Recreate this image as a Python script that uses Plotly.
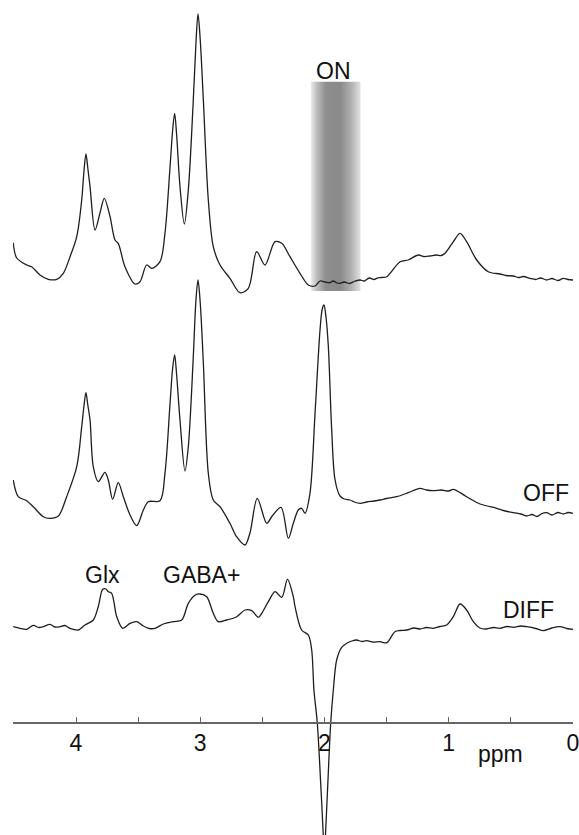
import plotly.graph_objects as go

# ---------------- data (ppm, intensity in arbitrary units) ----------------
on_ppm = [4.505, 4.477, 4.397, 4.357, 4.290, 4.223, 4.155, 4.102, 4.048, 3.994, 3.954, 3.935, 3.920,
          3.905, 3.887, 3.847, 3.807, 3.772, 3.726, 3.686, 3.660, 3.606, 3.525, 3.485, 3.431, 3.391,
          3.324, 3.284, 3.243, 3.222, 3.206, 3.190, 3.163, 3.128, 3.096, 3.056, 3.035, 3.018, 3.000,
          2.975, 2.935, 2.895, 2.841, 2.761, 2.680, 2.613, 2.546, 2.479, 2.398, 2.344, 2.278, 2.197,
          2.130, 2.076, 2.036, 1.995, 1.956, 1.930, 1.900, 1.875, 1.840, 1.800, 1.760, 1.714, 1.680,
          1.640, 1.600, 1.580, 1.540, 1.499, 1.392, 1.326, 1.245, 1.200, 1.151, 1.100, 1.060, 1.030,
          0.963, 0.909, 0.856, 0.775, 0.682, 0.588, 0.540, 0.480, 0.440, 0.400, 0.346, 0.300, 0.260,
          0.212, 0.170, 0.120, 0.078, 0.040, 0.000]
on_int = [37.3, 22, 15, 13.3, 5, 0.7, 0.7, 6.7, 23.3, 43.3, 80, 110, 126,
          112, 93.3, 50, 67, 81.7, 63.3, 40, 36.7, 13.3, -4, -1.7, 15, 11.7,
          18.3, 46.7, 113.3, 150, 166.7, 145, 93.3, 56, 90, 180, 236, 266, 240,
          180, 80, 33.3, 15, 1.7, -12.7, -8.3, 28.3, 15, 38.3, 36.7, 23.3, 6.7,
          -5, -6, -1, -2, -2.7, -1, -3, -3.3, -2, -3.5, -1.5, 0, -1,
          2, 0.5, 1.7, 2.5, 3.3, 18.3, 20, 25, 23.5, 24, 25, 24.5, 26.7,
          38.3, 46.7, 38.3, 20, 8.3, 6, 4.5, 4, 2.5, 3.5, 1.7, 0.5, 2,
          0, 1.5, -0.5, 1.7, 0.5, 0]

off_ppm = [4.505, 4.464, 4.397, 4.344, 4.263, 4.209, 4.142, 4.075, 3.994, 3.954, 3.935, 3.920, 3.905,
           3.887, 3.861, 3.821, 3.767, 3.740, 3.705, 3.660, 3.619, 3.565, 3.511, 3.458, 3.418, 3.324,
           3.284, 3.243, 3.222, 3.206, 3.190, 3.163, 3.123, 3.096, 3.056, 3.035, 3.018, 3.000, 2.975,
           2.935, 2.895, 2.841, 2.761, 2.707, 2.640, 2.600, 2.541, 2.465, 2.425, 2.350, 2.291, 2.251,
           2.211, 2.184, 2.157, 2.117, 2.076, 2.036, 2.018, 2.004, 1.988, 1.969, 1.942, 1.915, 1.875,
           1.840, 1.795, 1.760, 1.714, 1.660, 1.600, 1.553, 1.500, 1.419, 1.326, 1.231, 1.180, 1.124,
           1.060, 1.000, 0.963, 0.856, 0.748, 0.614, 0.560, 0.480, 0.420, 0.373, 0.330, 0.290, 0.250,
           0.212, 0.170, 0.120, 0.078, 0.040, 0.000]
off_int = [33, 16.3, 12.3, 6.3, -3.7, -5.3, -3, 16.3, 46.3, 86.3, 108, 120.3, 108,
           93, 46.3, 31.3, 40.7, 33, 13.7, 30.3, 16.3, -2, -12.7, 3, 11.3, 12.3,
           39.7, 109.7, 145, 158, 138, 93, 42, 66.3, 156.3, 212, 233, 210, 150,
           39.7, 13, 6.3, -10.3, -23.7, -32, -20, 14.7, -10.3, -3.7, 5.7, -25.3, -10.3,
           3, 4.7, -0.3, 19.7, 99.7, 183, 204, 208, 196, 166.3, 83, 33, 17,
           14, 13, 11, 9.7, 11, 12, 13, 14.5, 16.3, 20.3, 24.7, 23, 22.3,
           23, 22, 23.7, 16.3, 9, 4.7, 2.5, 0.3, -1, -3, -1.5, -3.5, -0.5,
           0.3, -2, 0.5, -1, 0.5, -0.3]

diff_ppm = [4.505, 4.451, 4.397, 4.344, 4.300, 4.263, 4.209, 4.170, 4.129, 4.090, 4.048, 3.981, 3.928,
            3.861, 3.821, 3.785, 3.760, 3.740, 3.713, 3.672, 3.624, 3.565, 3.511, 3.458, 3.410, 3.364,
            3.297, 3.217, 3.149, 3.096, 3.040, 3.002, 2.948, 2.895, 2.855, 2.787, 2.707, 2.640, 2.586,
            2.533, 2.505, 2.452, 2.398, 2.344, 2.298, 2.251, 2.237, 2.184, 2.130, 2.103, 2.085, 2.058,
            2.032, 2.010, 2.002, 1.992, 1.972, 1.950, 1.929, 1.902, 1.862, 1.821, 1.780, 1.741, 1.700,
            1.660, 1.610, 1.553, 1.499, 1.433, 1.390, 1.338, 1.280, 1.231, 1.180, 1.124, 1.070, 1.017,
            0.963, 0.909, 0.856, 0.802, 0.750, 0.695, 0.640, 0.588, 0.530, 0.480, 0.420, 0.373, 0.300,
            0.239, 0.170, 0.105, 0.050, 0.000]
diff_int = [0.3, -1.3, -2.3, 1.7, -0.5, 0.3, 2.7, 0, 0.3, 1.5, -1.3, -3, 2,
            7, 20.3, 37.7, 38, 35.3, 33.7, 10.3, -1.3, 3.7, 5.3, 1, -1.5, -1.3,
            3, 5.3, 7, 23.7, 32, 33, 30.3, 13.7, 5.3, 7, 10.3, 17, 16.3,
            9.7, 13.7, 25.3, 35.3, 29.7, 47.7, 30.3, 20.3, -3, -8, -23, -63, -96,
            -153, -208, -233, -208, -153, -96, -63, -33, -20.3, -16.3, -14, -13, -14.5,
            -13.7, -15, -14.7, -15.7, -4.7, -3.5, -3, -1, -2, -0.5, -1.3, 0.5, 2,
            10.3, 23, 17, 5.3, -1, -2, -0.5, -1.3, 0.5, -0.3, 1, 0.3, -1.5,
            -3.7, -1, 0.3, -1.5, -2.3]

tick_vals = [4, 3, 2, 1, 0]
tick_text = ["4", "3", "2", "1", "0"]
band_ppm = [2.11, 1.71]
labels = ["ON", "OFF", "DIFF", "Glx", "GABA+"]

# ---------------- layout constants ----------------
W, H = 579, 835
OFFSETS = {"ON": 555, "OFF": 322, "DIFF": 208}
LINE = dict(color="#1e1e1e", width=1.3, shape="spline", smoothing=0.9)
FONT = "Liberation Sans, Arial, Helvetica, sans-serif"
FS = 23

fig = go.Figure()

# ON saturation band (horizontal grey gradient)
band_top, band_bot = 835 - 81.7, 835 - 291
fig.add_trace(go.Scatter(
    x=[band_ppm[0], band_ppm[1], band_ppm[1], band_ppm[0], band_ppm[0]],
    y=[band_bot, band_bot, band_top, band_top, band_bot],
    mode="lines", line=dict(width=0), fill="toself",
    fillgradient=dict(type="horizontal",
                      colorscale=[[0, "#ececec"], [0.12, "#bdbdbd"], [0.3, "#8e8e8e"],
                                  [0.6, "#8a8a8a"], [0.82, "#b2b2b2"], [1, "#e2e2e2"]]),
    hoverinfo="skip", showlegend=False))

for name, xs, ys in [("ON", on_ppm, on_int), ("OFF", off_ppm, off_int), ("DIFF", diff_ppm, diff_int)]:
    off = OFFSETS[name]
    fig.add_trace(go.Scatter(x=xs, y=[v + off for v in ys], mode="lines",
                             line=LINE, name=name, showlegend=False))

ann_pos = {"ON": (1.93, 835 - 71), "OFF": (0.215, 835 - 493), "DIFF": (0.355, 835 - 609.5),
           "Glx": (3.787, 835 - 574.5), "GABA+": (2.988, 835 - 574.5)}
for lab in labels:
    x, y = ann_pos[lab]
    fig.add_annotation(x=x, y=y, xref="x", yref="y", text=lab, showarrow=False,
                       font=dict(size=FS, color="#111", family=FONT),
                       xanchor="center", yanchor="middle")
fig.add_annotation(x=0.585, y=835 - 754, xref="x", yref="y", text="ppm", showarrow=False,
                   font=dict(size=FS, color="#111", family=FONT), xanchor="center", yanchor="middle")

fig.update_layout(
    width=W, height=H, margin=dict(l=13, r=6, t=0, b=0, autoexpand=False),
    paper_bgcolor="white", plot_bgcolor="white",
    xaxis=dict(range=[4.507, 0], tickvals=tick_vals, ticktext=tick_text,
               anchor="free", position=(835 - 723) / 835, automargin=False,
               ticklabeloverflow="allow",
               showline=True, linecolor="#666", linewidth=1.5,
               ticks="inside", ticklen=5, tickwidth=1.2, tickcolor="#666",
               minor=dict(dtick=0.5, tick0=0, ticks="inside", ticklen=5, tickwidth=1.2, tickcolor="#666"),
               showgrid=False, zeroline=False,
               tickfont=dict(size=FS, color="#111", family=FONT)),
    yaxis=dict(range=[0, 835], visible=False, showgrid=False, zeroline=False),
)

fig.write_html("out.html", config={"displayModeBar": False},
               post_script="document.body.style.margin='0';document.body.style.padding='0';")
